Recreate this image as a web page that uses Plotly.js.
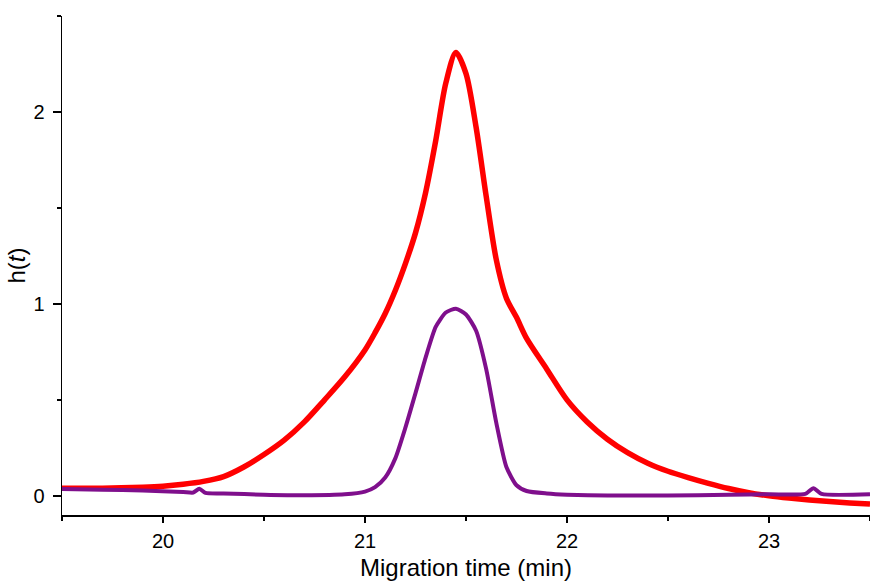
<!DOCTYPE html>
<html>
<head>
<meta charset="utf-8">
<script src="https://cdn.plot.ly/plotly-3.0.1.min.js"></script>
<style>html,body{margin:0;padding:0;background:#fff;}#chart{width:870px;height:583px;}</style>
</head>
<body>
<div id="chart"></div>
<script>
// Red trace (broad peak)
const redTime = [19.50,19.70,19.90,20.00,20.10,20.20,20.30,20.40,20.50,20.60,20.70,20.80,20.90,21.00,21.05,21.10,21.15,21.20,21.25,21.30,21.35,21.40,21.45,21.50,21.55,21.60,21.65,21.70,21.75,21.80,21.90,22.00,22.10,22.20,22.30,22.40,22.50,22.60,22.70,22.80,22.90,23.00,23.10,23.20,23.30,23.40,23.50];
const redH    = [0.040,0.040,0.045,0.050,0.060,0.075,0.100,0.150,0.215,0.290,0.385,0.500,0.620,0.760,0.850,0.950,1.070,1.210,1.370,1.580,1.850,2.150,2.310,2.200,1.920,1.560,1.230,1.030,0.930,0.820,0.660,0.500,0.385,0.295,0.225,0.170,0.128,0.095,0.065,0.038,0.016,0.000,-0.012,-0.022,-0.030,-0.037,-0.043];

// Purple trace (narrow peak)
const purpleTime = [19.50,19.70,19.90,20.10,20.15,20.18,20.21,20.30,20.50,20.70,20.90,21.00,21.05,21.10,21.15,21.20,21.25,21.30,21.35,21.40,21.45,21.50,21.55,21.60,21.65,21.70,21.75,21.80,21.90,22.00,22.20,22.50,22.80,23.00,23.18,23.22,23.26,23.50];
const purpleH    = [0.035,0.032,0.028,0.020,0.017,0.037,0.015,0.012,0.006,0.003,0.008,0.022,0.045,0.095,0.195,0.355,0.535,0.720,0.880,0.955,0.975,0.945,0.860,0.660,0.380,0.150,0.055,0.025,0.012,0.006,0.002,0.002,0.005,0.008,0.010,0.040,0.010,0.008];

const xTicks = [20,21,22,23];
const yTicks = [0,1,2];

const traces = [
  {x: redTime, y: redH, mode: 'lines', line: {color: '#ff0000', width: 5.5, shape: 'spline', smoothing: 0.8}, hoverinfo: 'skip'},
  {x: purpleTime, y: purpleH, mode: 'lines', line: {color: '#7f0f8c', width: 4, shape: 'spline', smoothing: 0.6}, hoverinfo: 'skip'}
];

const fontFam = '"Liberation Sans", Arial, sans-serif';
const layout = {
  width: 870, height: 583,
  margin: {l: 62, r: 0, t: 16, b: 68},
  paper_bgcolor: '#fff', plot_bgcolor: '#fff',
  showlegend: false,
  font: {family: fontFam, color: '#000'},
  xaxis: {
    range: [19.5, 23.5], tickvals: xTicks, ticktext: xTicks.map(String),
    showgrid: false, zeroline: false, showline: true, linecolor: '#000', linewidth: 1.5,
    ticks: 'outside', ticklen: 6, tickwidth: 1.5, tickcolor: '#000',
    ticklabelstandoff: 1,
    minor: {dtick: 0.5, tick0: 0, ticks: 'outside', ticklen: 4, tickwidth: 1.5, tickcolor: '#000', showgrid: false},
    tickfont: {size: 20, family: fontFam, color: '#000'},
    title: {text: 'Migration time (min)', font: {size: 24, family: fontFam, color: '#000'}, standoff: 8}
  },
  yaxis: {
    range: [-0.1, 2.5], tickvals: yTicks, ticktext: yTicks.map(String),
    showgrid: false, zeroline: false, showline: true, linecolor: '#000', linewidth: 1.5,
    ticks: 'outside', ticklen: 8, tickwidth: 1.5, tickcolor: '#000',
    ticklabelstandoff: 4,
    minor: {dtick: 0.5, tick0: 0, ticks: 'outside', ticklen: 4, tickwidth: 1.5, tickcolor: '#000', showgrid: false},
    tickfont: {size: 20, family: fontFam, color: '#000'},
    title: {text: 'h(<i>t</i>)', font: {size: 24, family: fontFam, color: '#000'}, standoff: 1}
  }
};

Plotly.newPlot('chart', traces, layout, {staticPlot: true, displayModeBar: false});
</script>
</body>
</html>
